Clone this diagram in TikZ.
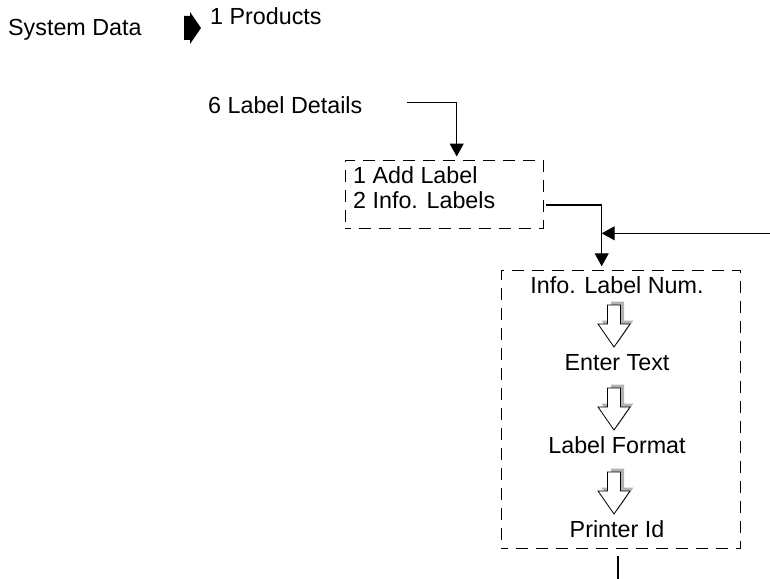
\documentclass[tikz,border=0pt]{standalone}
\usepackage{fontspec}
\setmainfont{Liberation Sans}
\usetikzlibrary{arrows.meta}

\tikzset{
  menutext/.style={font=\fontsize{23.3pt}{28pt}\selectfont, inner sep=0pt},
  menubox/.style={draw, dash pattern=on 12pt off 8pt, dash phase=6pt, line width=1pt, inner sep=0pt},
  flow/.style={line width=1.2pt, -{Triangle[width=14pt,length=13pt]}},
  plainline/.style={line width=1.2pt},
  pics/stepdown/.style={code={
      \fill[gray!60, shift={(3.5,-3.5)}] (-6.5,0) -- (6.5,0) -- (6.5,19) -- (16,19)
          -- (0,42) -- (-16,19) -- (-6.5,19) -- cycle;
      \filldraw[fill=white, draw=black, line width=0.8pt] (-6.5,0) -- (6.5,0) -- (6.5,19)
          -- (16,19) -- (0,42) -- (-16,19) -- (-6.5,19) -- cycle;
  }}
}

\begin{document}
\begin{tikzpicture}[x=1pt, y=-1pt]
    \useasboundingbox (0,0) rectangle (770,578);

    % top line of the menu path
    \node[menutext, anchor=base west] (sysdata) at (8,36) {System Data};
    \node[menutext, anchor=base west] (products) at (210,25) {1 Products};
    \fill (184,16) -- (190,16) -- (190,12) -- (201,28) -- (190,44) -- (190,40) -- (184,40) -- cycle;

    \node[menutext, anchor=base west] (lbldetails) at (208,113) {6 Label Details};

    % first sub menu
    \node[menubox, minimum width=198pt, minimum height=68pt] (addbox) at (444,194) {};
    \node[menutext, anchor=base west] (addlabel) at (353,183) {1 Add Label};
    \node[menutext, anchor=base west] (infolabels) at (353,208) {2 Info. Labels};

    % entry sequence
    \node[menubox, minimum width=239pt, minimum height=278.3pt] (infobox) at (621.2,409.2) {};
    \node[menutext, anchor=base] (infonum) at (617,293) {Info. Label Num.};
    \node[menutext, anchor=base] (entertext) at (617,370) {Enter Text};
    \node[menutext, anchor=base] (lblformat) at (617,453) {Label Format};
    \node[menutext, anchor=base] (printerid) at (617,537) {Printer Id};

    \pic at (614,305) {stepdown};
    \pic at (614,388) {stepdown};
    \pic at (614,472) {stepdown};

    % connectors
    \coordinate (detailsout) at (407,102.7);
    \coordinate (returnin) at (770,233.3);
    \coordinate (joinpt) at (601.7,233.3);
    \draw[flow, shorten >=3pt] (detailsout) -| ([xshift=12.7pt]addbox.north);
    \draw[flow, shorten >=3.3pt] ([shift={(2,11)}]addbox.east) -| ([xshift=-19.5pt]infobox.north);
    \draw[flow] (returnin) -- (joinpt);
    \draw[plainline] ([shift={(-3.2,7)}]infobox.south) -- ++(0,23);
\end{tikzpicture}
\end{document}
